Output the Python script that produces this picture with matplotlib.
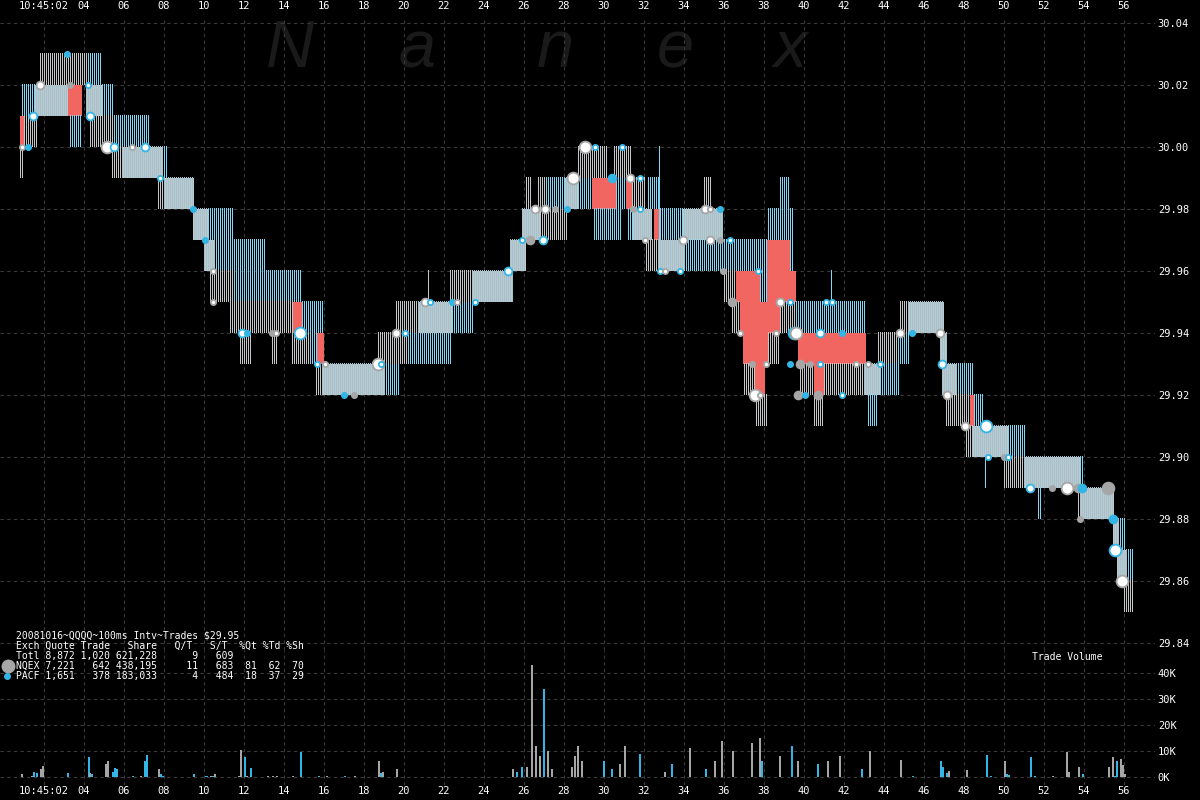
import matplotlib
matplotlib.use("Agg")
import matplotlib.pyplot as plt
from matplotlib.lines import Line2D
import numpy as np

MONO = 'DejaVu Sans Mono'

# time is seconds after 10:45:00
# quote boxes: G = NQEX only, C = PACF only, D = both, R = crossed
seg_t0 = [0.8, 0.8, 1.0, 0.85, 1.55, 1.8, 3.2, 3.25, 4.2, 4.1, 4.9, 4.3, 5.45, 5.4, 5.9, 7.95, 7.7, 8.0,
          9.45, 10.2, 10.0, 10.55, 10.3, 11.45, 11.3, 14.45, 14.9, 11.8, 13.4, 14.4, 15.3, 15.65, 15.6, 15.9,
          19.05, 18.7, 20.15, 19.6, 20.7, 22.4, 22.3, 23.4, 25.3, 25.9, 26.8, 26.1, 26.7, 27.05, 28.05, 28.7,
          29.4, 30.6, 31.1, 31.4, 32.2, 28.65, 30.5, 29.45, 31.15, 31.45, 32.5, 32.8, 33.95, 35.0, 32.1, 32.7,
          34.05, 36.0, 36.6, 37.8, 38.15, 38.15, 38.2, 38.75, 39.3, 36.4, 36.8, 38.8, 39.55, 36.95, 38.2, 39.7,
          43.65, 44.65, 44.8, 45.2, 37.0, 37.55, 37.55, 39.8, 40.5, 41.0, 43.0, 43.8, 40.5, 43.15, 46.8, 46.9,
          47.65, 47.1, 48.3, 48.5, 48.1, 48.4, 50.2, 50.0, 51.0, 53.8, 51.65, 53.7, 53.8, 55.45, 55.75, 55.65,
          56.15, 56.0]
seg_t1 = [0.95, 1.0, 1.65, 1.55, 3.2, 4.2, 3.9, 3.9, 4.9, 4.9, 5.5, 5.45, 7.3, 5.9, 7.95, 8.2, 8.0, 9.5,
          10.2, 11.45, 10.55, 13.1, 11.45, 14.9, 14.45, 14.9, 16.0, 12.35, 13.65, 15.3, 15.65, 16.0, 15.9, 19.05,
          19.8, 20.15, 22.4, 20.7, 22.4, 23.5, 23.4, 25.45, 26.1, 26.8, 28.15, 26.35, 27.05, 28.05, 28.7, 29.4,
          30.6, 31.1, 31.4, 32.05, 32.75, 30.15, 31.35, 30.9, 31.45, 32.4, 32.8, 33.95, 35.95, 35.35, 32.7, 34.05,
          38.15, 36.6, 37.8, 38.15, 39.6, 39.3, 39.3, 39.3, 39.5, 36.8, 38.8, 39.55, 43.1, 38.2, 38.75, 43.1,
          44.65, 45.3, 45.2, 47.0, 37.55, 38.05, 38.15, 40.45, 41.0, 43.0, 43.8, 44.8, 40.95, 43.65, 47.15, 47.65,
          48.5, 48.3, 48.5, 49.0, 48.4, 50.2, 51.1, 51.0, 53.8, 54.0, 51.9, 53.8, 55.5, 55.75, 56.1, 56.15,
          56.45, 56.45]
seg_lo = [29.99, 30.00, 30.00, 30.01, 30.01, 30.02, 30.01, 30.00, 30.02, 30.01, 30.01, 30.00, 30.00, 29.99, 29.99, 29.99, 29.98, 29.98,
          29.97, 29.97, 29.96, 29.96, 29.95, 29.95, 29.94, 29.94, 29.94, 29.93, 29.93, 29.93, 29.93, 29.93, 29.92, 29.92,
          29.92, 29.93, 29.93, 29.94, 29.94, 29.94, 29.95, 29.95, 29.96, 29.97, 29.97, 29.98, 29.98, 29.98, 29.98, 29.98,
          29.98, 29.98, 29.98, 29.98, 29.98, 29.99, 29.99, 29.97, 29.97, 29.97, 29.97, 29.97, 29.97, 29.98, 29.96, 29.96,
          29.96, 29.95, 29.95, 29.95, 29.95, 29.96, 29.97, 29.98, 29.96, 29.94, 29.94, 29.94, 29.94, 29.93, 29.93, 29.93,
          29.93, 29.93, 29.94, 29.94, 29.92, 29.92, 29.91, 29.92, 29.92, 29.92, 29.92, 29.92, 29.91, 29.91, 29.93, 29.92,
          29.92, 29.91, 29.91, 29.91, 29.90, 29.90, 29.90, 29.89, 29.89, 29.89, 29.88, 29.88, 29.88, 29.87, 29.87, 29.86,
          29.86, 29.85]
seg_hi = [30.00, 30.01, 30.01, 30.02, 30.02, 30.03, 30.02, 30.01, 30.03, 30.02, 30.02, 30.01, 30.01, 30.00, 30.00, 30.00, 29.99, 29.99,
          29.98, 29.98, 29.97, 29.97, 29.96, 29.96, 29.95, 29.95, 29.95, 29.94, 29.94, 29.94, 29.94, 29.94, 29.93, 29.93,
          29.93, 29.94, 29.94, 29.95, 29.95, 29.95, 29.96, 29.96, 29.97, 29.98, 29.98, 29.99, 29.99, 29.99, 29.99, 29.99,
          29.99, 29.99, 29.99, 29.99, 29.99, 30.00, 30.00, 29.98, 29.98, 29.98, 29.98, 29.98, 29.98, 29.99, 29.97, 29.97,
          29.97, 29.96, 29.96, 29.96, 29.96, 29.97, 29.98, 29.99, 29.98, 29.95, 29.95, 29.95, 29.95, 29.94, 29.94, 29.94,
          29.94, 29.94, 29.95, 29.95, 29.93, 29.93, 29.92, 29.93, 29.93, 29.93, 29.93, 29.93, 29.92, 29.92, 29.94, 29.93,
          29.93, 29.92, 29.92, 29.92, 29.91, 29.91, 29.91, 29.90, 29.90, 29.90, 29.89, 29.89, 29.89, 29.88, 29.88, 29.87,
          29.87, 29.86]
seg_kind = ['G', 'R', 'G', 'C', 'D', 'G', 'R', 'C', 'C', 'D', 'C', 'G', 'C', 'G', 'D', 'C', 'G', 'D',
            'D', 'C', 'D', 'C', 'G', 'C', 'G', 'R', 'C', 'G', 'G', 'G', 'C', 'R', 'G', 'D',
            'C', 'G', 'C', 'G', 'D', 'C', 'G', 'D', 'D', 'D', 'G', 'G', 'G', 'C', 'D', 'C',
            'R', 'C', 'R', 'G', 'C', 'G', 'G', 'C', 'C', 'D', 'R', 'C', 'D', 'G', 'G', 'D',
            'C', 'G', 'R', 'C', 'R', 'R', 'C', 'C', 'C', 'G', 'R', 'G', 'C', 'R', 'G', 'R',
            'G', 'C', 'G', 'D', 'G', 'R', 'G', 'G', 'R', 'G', 'D', 'C', 'G', 'C', 'D', 'D',
            'C', 'G', 'R', 'C', 'G', 'D', 'C', 'G', 'D', 'C', 'C', 'G', 'D', 'D', 'C', 'D',
            'C', 'G']

# single quote flickers
spike_t = [21.2, 32.75, 41.35, 49.05]
spike_lo = [29.95, 29.97, 29.95, 29.89]
spike_hi = [29.96, 30.00, 29.96, 29.90]
spike_ex = ['N', 'P', 'P', 'P']

# trades: exchange, size class (1..3), solid dot or ring
trade_t = [3.15, 3.3, 1.8, 4.2, 1.45, 4.3, 0.9, 1.2, 5.15, 5.5, 6.4, 7.05, 7.8, 9.45, 10.05, 10.45, 10.45,
           11.9, 12.15, 13.4, 13.6, 14.8, 15.65, 16.05, 18.7, 18.85, 17.0, 17.5, 19.6, 20.05, 21.05, 21.3,
           22.4, 22.65, 23.55, 25.2, 25.9, 26.3, 26.95, 26.55, 27.05, 27.55, 28.15, 28.45, 29.05, 29.55,
           30.9, 30.4, 31.3, 31.8, 31.45, 31.8, 32.05, 33.95, 35.3, 35.8, 36.3, 35.05, 35.3, 35.8, 32.8,
           33.05, 33.8, 35.95, 36.4, 37.7, 38.8, 39.3, 39.5, 39.6, 40.8, 41.9, 41.1, 41.4, 36.8, 38.6, 37.4,
           38.1, 39.3, 39.8, 40.3, 40.8, 42.6, 43.2, 43.8, 37.55, 37.8, 39.7, 40.05, 40.7, 41.9, 44.8, 45.4,
           46.8, 46.9, 47.15, 48.05, 49.1, 49.2, 50.0, 50.2, 51.3, 52.4, 53.15, 53.7, 53.9, 55.2, 53.8,
           55.45, 55.55, 55.9]
trade_p = [30.03, 30.02, 30.02, 30.02, 30.01, 30.01, 30.00, 30.00, 30.00, 30.00, 30.00, 30.00, 29.99, 29.98, 29.97, 29.96, 29.95,
           29.94, 29.94, 29.94, 29.94, 29.94, 29.93, 29.93, 29.93, 29.93, 29.92, 29.92, 29.94, 29.94, 29.95, 29.95,
           29.95, 29.95, 29.95, 29.96, 29.97, 29.97, 29.97, 29.98, 29.98, 29.98, 29.98, 29.99, 30.00, 30.00,
           30.00, 29.99, 29.99, 29.99, 29.98, 29.98, 29.97, 29.97, 29.97, 29.97, 29.97, 29.98, 29.98, 29.98, 29.96,
           29.96, 29.96, 29.96, 29.95, 29.96, 29.95, 29.95, 29.94, 29.94, 29.94, 29.94, 29.95, 29.95, 29.94, 29.94, 29.93,
           29.93, 29.93, 29.93, 29.93, 29.93, 29.93, 29.93, 29.93, 29.92, 29.92, 29.92, 29.92, 29.92, 29.92, 29.94, 29.94,
           29.94, 29.93, 29.92, 29.91, 29.91, 29.90, 29.90, 29.90, 29.89, 29.89, 29.89, 29.89, 29.89, 29.89, 29.88,
           29.88, 29.87, 29.86]
trade_ex = ['P', 'N', 'N', 'P', 'P', 'P', 'N', 'P', 'N', 'P', 'N', 'P', 'P', 'P', 'P', 'N', 'N',
            'P', 'P', 'N', 'N', 'P', 'P', 'N', 'N', 'P', 'P', 'N', 'N', 'P', 'N', 'P',
            'P', 'N', 'P', 'P', 'P', 'N', 'P', 'N', 'N', 'N', 'P', 'N', 'N', 'P',
            'P', 'P', 'N', 'P', 'N', 'P', 'N', 'N', 'N', 'N', 'P', 'N', 'N', 'P', 'P',
            'N', 'P', 'N', 'N', 'P', 'N', 'P', 'P', 'N', 'P', 'P', 'P', 'P', 'N', 'N', 'N',
            'N', 'P', 'N', 'N', 'P', 'N', 'N', 'P', 'N', 'N', 'N', 'P', 'N', 'P', 'N', 'P',
            'N', 'P', 'N', 'N', 'P', 'P', 'N', 'P', 'P', 'N', 'N', 'N', 'P', 'N', 'N',
            'P', 'P', 'N']
trade_sz = [1, 1, 2, 1, 2, 2, 1, 1, 3, 2, 1, 2, 1, 1, 1, 1, 1,
            2, 1, 1, 1, 3, 1, 1, 3, 1, 1, 1, 2, 1, 2, 1,
            1, 1, 1, 2, 1, 2, 2, 2, 2, 1, 1, 3, 3, 1,
            1, 2, 2, 1, 1, 1, 1, 2, 2, 1, 1, 2, 1, 1, 1,
            1, 1, 1, 2, 1, 2, 1, 3, 3, 2, 1, 1, 1, 1, 1, 1,
            1, 1, 2, 1, 1, 1, 1, 1, 3, 1, 2, 1, 2, 1, 2, 1,
            2, 2, 2, 2, 3, 1, 1, 1, 2, 1, 3, 2, 2, 3, 1,
            2, 3, 3]
trade_fill = [1, 1, 0, 0, 0, 0, 0, 1, 0, 0, 0, 0, 0, 1, 1, 0, 0,
              0, 1, 1, 0, 0, 0, 0, 0, 0, 1, 1, 0, 0, 0, 0,
              1, 0, 0, 0, 0, 1, 0, 0, 0, 1, 1, 0, 0, 0,
              0, 1, 0, 0, 1, 0, 0, 0, 0, 1, 0, 0, 0, 1, 0,
              0, 0, 1, 1, 0, 0, 0, 1, 0, 0, 1, 0, 0, 0, 0, 1,
              0, 1, 1, 1, 0, 0, 0, 0, 0, 0, 1, 1, 1, 0, 0, 1,
              0, 0, 0, 0, 0, 0, 1, 0, 0, 1, 0, 1, 1, 1, 1,
              1, 0, 0]

# trade volume per 100ms bucket
vol_t = [0.9, 1.4, 1.5, 1.65, 1.85, 1.95, 3.2, 4.25, 4.3, 4.4, 5.1, 5.2, 5.45, 5.55, 5.65, 6.45, 6.85,
         7.05, 7.15, 7.75, 7.85, 7.95, 9.5, 10.1, 10.15, 10.35, 10.45, 10.55, 11.75, 11.85, 12.05, 12.15,
         12.35, 13.2, 13.45, 13.65, 14.45, 14.85, 15.75, 16.15, 17.05, 17.55, 18.75, 18.85, 18.95, 19.65,
         25.45, 25.65, 25.9, 26.15, 26.4, 26.6, 26.8, 27.0, 27.2, 27.4, 28.4, 28.55, 28.7, 28.9, 30.0,
         30.4, 30.8, 31.05, 31.8, 33.05, 33.4, 34.3, 35.1, 35.55, 35.9, 36.45, 37.4, 37.8, 37.9, 38.8,
         39.4, 39.7, 40.7, 41.2, 41.8, 42.9, 43.3,
         44.85, 45.45, 46.85, 46.95, 47.15, 47.25, 48.15, 49.15, 49.35, 50.05, 50.15, 50.25, 51.35, 51.55,
         52.45, 53.15, 53.25, 53.75, 53.95, 55.25, 55.45, 55.55, 55.65, 55.85, 55.95, 56.05]
vol_k = [1.2, 0.5, 2.0, 1.5, 3.0, 4.3, 1.5, 7.5, 1.5, 1.0, 5.0, 6.0, 2.0, 3.3, 3.0, 0.3, 0.5,
         6.0, 8.5, 3.0, 1.0, 0.5, 1.0, 0.5, 0.5, 0.5, 0.5, 1.0, 0.5, 10.5, 7.5, 0.5,
         3.5, 0.3, 0.3, 0.3, 0.3, 9.8, 0.5, 0.5, 0.3, 0.3, 6.0, 1.5, 2.0, 3.0,
         3.0, 2.0, 4.0, 4.0, 43.0, 12.0, 8.0, 34.0, 10.0, 3.0, 4.0, 8.0, 12.0, 6.0, 6.0,
         3.0, 5.0, 12.0, 9.0, 2.0, 5.0, 11.0, 3.0, 6.0, 14.0, 10.0, 13.0, 15.0, 6.0, 8.0,
         12.0, 6.0, 5.0, 6.0, 8.0, 3.0, 10.0,
         6.5, 0.5, 6.0, 4.0, 1.5, 2.3, 2.5, 8.5, 0.3, 6.0, 1.0, 0.7, 7.5, 0.3,
         0.3, 9.8, 2.0, 4.0, 1.2, 4.0, 7.5, 0.5, 6.0, 7.0, 4.5, 1.0]
vol_ex = ['N', 'N', 'P', 'P', 'N', 'N', 'P', 'P', 'N', 'P', 'N', 'N', 'P', 'P', 'P', 'P', 'N',
          'P', 'P', 'N', 'P', 'P', 'P', 'P', 'P', 'N', 'P', 'N', 'N', 'N', 'P', 'N',
          'P', 'N', 'N', 'N', 'N', 'P', 'P', 'N', 'P', 'N', 'N', 'P', 'N', 'N',
          'N', 'P', 'P', 'N', 'N', 'N', 'N', 'P', 'N', 'N', 'N', 'N', 'N', 'N', 'P',
          'P', 'N', 'N', 'P', 'N', 'P', 'N', 'P', 'N', 'N', 'N', 'N', 'N', 'P', 'N',
          'P', 'N', 'P', 'N', 'N', 'P', 'N',
          'N', 'P', 'P', 'P', 'P', 'N', 'N', 'P', 'P', 'N', 'P', 'P', 'P', 'P',
          'N', 'N', 'N', 'N', 'P', 'N', 'N', 'P', 'P', 'N', 'N', 'N']

tick_secs = list(range(2, 57, 2))
price_ticks = [29.84, 29.86, 29.88, 29.90, 29.92, 29.94, 29.96, 29.98, 30.00, 30.02, 30.04]
vol_ticks = [0, 10000, 20000, 30000, 40000]

legend_rows = [
    "20081016~QQQQ~100ms Intv~Trades $29.95",
    "Exch Quote Trade   Share   Q/T   S/T  %Qt %Td %Sh",
    "Totl 8,872 1,020 621,228      9   609",
    "NQEX 7,221   642 438,195     11   683  81  62  70",
    "PACF 1,651   378 183,033      4   484  18  37  29",
]

GRAY = '#a6a6a6'
CYAN = '#33b5e5'
LGRAY = '#c4c6c8'
LCYAN = '#7fd6f6'
DCYAN = '#9cc4d2'
RED = '#f26662'
GRID = '#3a3a3a'
INTV = 0.1   # one quote line per 100ms interval
LW = 0.05    # one pixel wide

fig = plt.figure(figsize=(12, 8), dpi=100, facecolor='black')
ax = fig.add_axes([0, 150 / 800, 1155 / 1200, 632 / 800])
vax = fig.add_axes([0, 15 / 800, 1155 / 1200, 135 / 800])

for a in (ax, vax):
    a.set_facecolor('black')
    for s in a.spines.values():
        s.set_visible(False)
    a.set_axisbelow(True)
    a.set_xlim(-0.2, 57.55)
    a.set_xticks(tick_secs)
    a.grid(True, color=GRID, linestyle=(0, (3, 3)), linewidth=0.8)

# watermark
for ch, xp in zip("Nanex", [290, 417, 555, 675, 790]):
    ax.text(xp / 1200, 1 - 50 / 800, ch, transform=fig.transFigure, ha='center', va='center',
            fontsize=48, style='italic', family='Liberation Sans', color='#1a1a1a', zorder=0.5)


def interval_lines(t0, t1):
    k = np.arange(np.ceil(t0 / INTV - 1e-6), np.ceil(t1 / INTV - 1e-6))
    return k * INTV


# quote boxes: one thin line per interval; where both exchanges quote, the gaps are gray
lx, llo, lhi, lc = [], [], [], []
for t0, t1, lo, hi, k in zip(seg_t0, seg_t1, seg_lo, seg_hi, seg_kind):
    if k in ('R', 'D'):
        ax.bar(t0, hi - lo, width=t1 - t0, bottom=lo, align='edge',
               color=RED if k == 'R' else LGRAY, linewidth=0, zorder=2)
        if k == 'R':
            continue
    xs = interval_lines(t0, t1)
    col = {'G': LGRAY, 'C': LCYAN, 'D': DCYAN}[k]
    lx.extend(xs)
    llo.extend([lo] * len(xs))
    lhi.extend([hi] * len(xs))
    lc.extend([col] * len(xs))
for t, lo, hi, e in zip(spike_t, spike_lo, spike_hi, spike_ex):
    lx.append(t)
    llo.append(lo)
    lhi.append(hi)
    lc.append(LGRAY if e == 'N' else LCYAN)
lx, llo, lhi = np.array(lx), np.array(llo), np.array(lhi)
ax.bar(lx, lhi - llo, width=LW, bottom=llo, align='edge', color=lc, linewidth=0,
       antialiased=False, snap=False, zorder=2.1)

# trades
sizes = {1: 14, 2: 32, 3: 72}
for t, p, e, sz, f in zip(trade_t, trade_p, trade_ex, trade_sz, trade_fill):
    c = GRAY if e == 'N' else CYAN
    ax.scatter(t, p, s=sizes[sz], facecolor=c if f else 'white', edgecolor=c,
               linewidth=1.3, zorder=4)

ax.set_ylim(29.8377, 30.0416)
ax.set_yticks(price_ticks)
ax.set_yticklabels([f"{v:.2f}" for v in price_ticks])
ax.yaxis.tick_right()
ax.xaxis.tick_top()
ax.set_xticklabels(["10:45:02"] + [f"{s:02d}" for s in tick_secs[1:]])
ax.tick_params(length=0, labelcolor='white', labelsize=7.5, pad=2)
ax.tick_params(axis='x', pad=5)
for lab in ax.get_xticklabels() + ax.get_yticklabels():
    lab.set_family(MONO)

# volume
for t, v, e in zip(vol_t, vol_k, vol_ex):
    vax.bar(t, v * 1000, width=0.1, color=GRAY if e == 'N' else CYAN, linewidth=0, zorder=2)
vax.set_ylim(-3077, 48846)
vax.set_yticks(vol_ticks)
vax.set_yticklabels([f"{v // 1000}K" for v in vol_ticks])
vax.yaxis.tick_right()
vax.set_xticklabels(["10:45:02"] + [f"{s:02d}" for s in tick_secs[1:]])
vax.tick_params(length=0, labelcolor='white', labelsize=7.5, pad=2)
vax.tick_params(axis='x', pad=1)
for lab in vax.get_xticklabels() + vax.get_yticklabels():
    lab.set_family(MONO)

fig.text(1032 / 1200, 1 - 657 / 800, "Trade Volume", color='white', family=MONO,
         fontsize=7, va='center')
for i, row in enumerate(legend_rows):
    fig.text(16 / 1200, 1 - (636 + 10 * i) / 800, row, color='white', family=MONO,
             fontsize=7, va='center')
fig.add_artist(Line2D([8 / 1200], [1 - 666 / 800], marker='o', markersize=9, color=GRAY,
                      transform=fig.transFigure))
fig.add_artist(Line2D([7 / 1200], [1 - 676 / 800], marker='o', markersize=4, color=CYAN,
                      transform=fig.transFigure))

fig.savefig("out.png", dpi=100, facecolor='black')
